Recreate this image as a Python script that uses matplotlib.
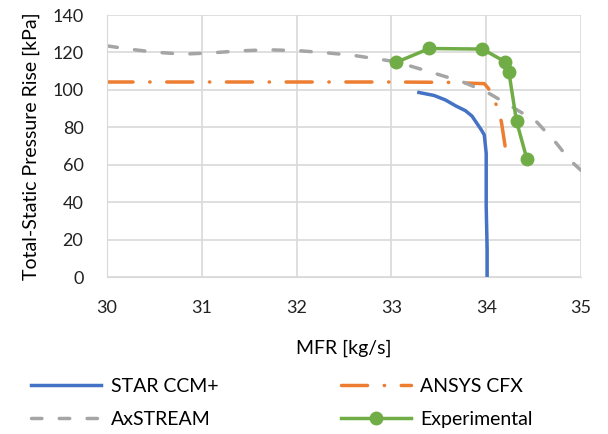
import matplotlib.pyplot as plt

plt.rcParams['font.family'] = ['Lato', 'DejaVu Sans']

# STAR CCM+
star_x = [33.29, 33.45, 33.57, 33.68, 33.78, 33.85, 33.89, 33.95, 33.98, 34.00, 34.00, 34.01, 34.01]
star_y = [98.6, 97.0, 94.6, 91.4, 88.9, 86.0, 83.0, 78.5, 75.9, 66.1, 37.7, 15.0, 0.0]

# ANSYS CFX
cfx_x = [30.0, 31.0, 32.0, 33.0, 33.6, 33.98, 34.02, 34.07, 34.12, 34.16, 34.20]
cfx_y = [104.2, 104.2, 104.2, 104.2, 104.0, 103.3, 101.0, 97.0, 90.0, 83.0, 69.7]

# AxSTREAM
ax_x = [30.0, 30.23, 30.51, 30.81, 31.11, 31.42, 31.71, 32.03, 32.31, 32.59, 33.05,
        33.40, 33.75, 34.00, 34.28, 34.53, 34.74, 34.88, 35.0]
ax_y = [123.5, 121.8, 120.1, 119.1, 119.8, 120.9, 121.4, 120.9, 119.8, 118.5, 115.0,
        109.7, 104.3, 99.0, 90.7, 83.0, 71.5, 62.6, 57.0]

# Experimental
exp_x = [33.05, 33.40, 33.96, 34.20, 34.24, 34.32, 34.43]
exp_y = [114.7, 122.1, 121.8, 115.0, 109.3, 83.2, 62.9]

fig = plt.figure(figsize=(6.08, 4.34), dpi=100)
ax = fig.add_axes([107 / 608, 1 - 277 / 434, 474 / 608, 262 / 434])

l1, = ax.plot(star_x, star_y, color='#4472C4', lw=2.5, label='STAR CCM+')
l2, = ax.plot(cfx_x, cfx_y, color='#ED7D31', lw=2.5, dashes=(7.5, 4.8, 0.1, 4.8),
              dash_capstyle='round', label='ANSYS CFX')
l3, = ax.plot(ax_x, ax_y, color='#A5A5A5', lw=2.5, dashes=(3.0, 5.0),
              dash_capstyle='round', label='AxSTREAM')
l4, = ax.plot(exp_x, exp_y, color='#70AD47', lw=2.5, marker='o', ms=9, label='Experimental')

ax.set_xlim(30, 35)
ax.set_ylim(0, 140)
ax.set_xticks(range(30, 36))
ax.set_yticks(range(0, 141, 20))
ax.grid(True, color='#d9d9d9', lw=1.2)
ax.set_axisbelow(True)
for s in ax.spines.values():
    s.set_visible(False)
ax.spines['left'].set_visible(True)
ax.spines['bottom'].set_visible(True)
ax.spines['left'].set_color('#d9d9d9')
ax.spines['bottom'].set_color('#d9d9d9')
ax.tick_params(length=0, labelsize=13, colors='#222222')
ax.tick_params(axis='x', pad=16.5)
ax.tick_params(axis='y', pad=17)

ax.set_xlabel('MFR [kg/s]', fontsize=14, labelpad=17)
ax.set_ylabel('Total-Static Pressure Rise [kPa]', fontsize=14, labelpad=9)

# row-wise order like the original: STAR / ANSYS, AxSTREAM / Experimental
handles = [l1, l3, l2, l4]
fig.legend(handles, [h.get_label() for h in handles],
           loc='upper left', bbox_to_anchor=(0.022, 0.17),
           ncol=2, frameon=False, fontsize=14, handlelength=3.6, handletextpad=0.5,
           columnspacing=6.3, labelspacing=0.85)

fig.savefig('out.png', dpi=100)
